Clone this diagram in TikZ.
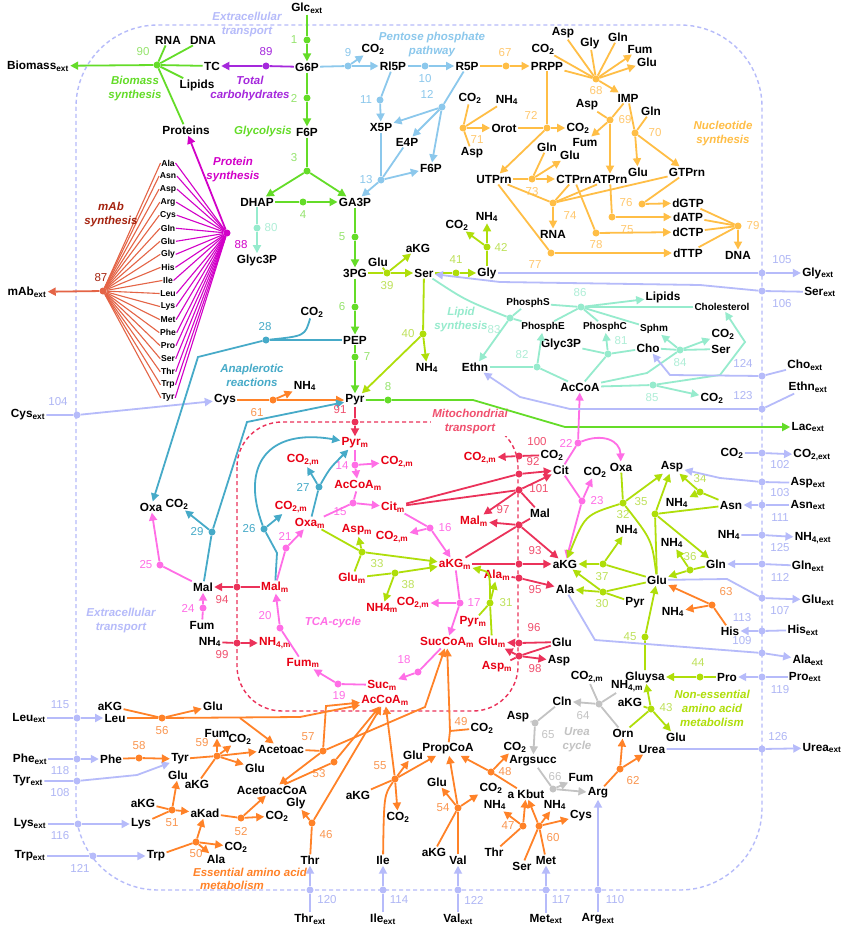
\documentclass[tikz,border=0pt]{standalone}
\usepackage{fontspec}
\setmainfont{Liberation Sans}
\usetikzlibrary{arrows.meta}
\definecolor{cgly}{RGB}{100,220,40}
\definecolor{cglyn}{RGB}{150,228,110}
\definecolor{cppp}{RGB}{140,200,236}
\definecolor{cnuc}{RGB}{255,190,70}
\definecolor{cnucn}{RGB}{255,200,110}
\definecolor{cprot}{RGB}{210,0,200}
\definecolor{ccarb}{RGB}{165,40,220}
\definecolor{cmab}{RGB}{228,100,70}
\definecolor{cmabt}{RGB}{165,35,15}
\definecolor{cana}{RGB}{70,170,200}
\definecolor{ctca}{RGB}{255,110,230}
\definecolor{cmit}{RGB}{235,50,90}
\definecolor{cmitn}{RGB}{240,80,110}
\definecolor{cmitt}{RGB}{232,0,20}
\definecolor{cnea}{RGB}{175,222,10}
\definecolor{cnean}{RGB}{190,225,90}
\definecolor{cea}{RGB}{255,130,40}
\definecolor{cean}{RGB}{250,150,80}
\definecolor{ctr}{RGB}{182,187,250}
\definecolor{ctrn}{RGB}{175,182,245}
\definecolor{cmint}{RGB}{150,235,205}
\definecolor{cmintn}{RGB}{175,238,215}
\definecolor{curea}{RGB}{195,195,195}
\newcommand{\sbext}{\textsubscript{ext}}
\newcommand{\sbm}{\textsubscript{m}}
\newcommand{\cotwo}{CO\textsubscript{2}}
\newcommand{\cotwom}{CO\textsubscript{2,m}}
\newcommand{\nhf}{NH\textsubscript{4}}
\tikzset{
  met/.style={font=\bfseries\fontsize{11.8}{13}\selectfont, inner sep=1.2pt},
  metr/.style={met, text=cmitt},
  mets/.style={font=\bfseries\fontsize{10}{11}\selectfont, inner sep=1pt},
  aal/.style={font=\bfseries\fontsize{8.6}{9}\selectfont, inner sep=0.6pt},
  num/.style={font=\fontsize{11.5}{12}\selectfont, inner sep=0pt},
  pth/.style={font=\bfseries\itshape\fontsize{11.5}{14}\selectfont, align=center, inner sep=0pt},
  rdot/.style={circle, inner sep=0pt, minimum size=7pt},
  arr/.style={line width=1.8pt, -{Triangle[length=8pt,width=8pt]}},
  lin/.style={line width=1.8pt},
}
\begin{document}
\begin{tikzpicture}[x=1pt,y=-1pt]
\useasboundingbox (0,0) rectangle (850,931);
\fill[white] (0,0) rectangle (850,931);
% compartments
\draw[ctr,line width=1.4pt,dash pattern=on 4pt off 3pt,rounded corners=82pt] (76,25) rectangle (762,890);
\draw[cmit,line width=1.4pt,dash pattern=on 4pt off 3pt,rounded corners=45pt] (237,422) rectangle (518,711);
\node[pth,text=cmitn,fill=white,inner sep=1.5pt] (lmit) at (470,422) {Mitochondrial\\transport};
\node[pth,text=ctr] (lext1) at (247,25) {Extracellular\\transport};
\node[pth,text=ctr] (lext2) at (121,621) {Extracellular\\transport};

% ================= glycolysis
\node[met] (Glcext) at (307,8) {Glc\sbext};
\node[met] (G6P) at (307,67) {G6P};
\node[met] (F6P) at (307,132) {F6P};
\node[met] (DHAP) at (257,202) {DHAP};
\node[met] (GA3P) at (355,202) {GA3P};
\node[met] (PG3) at (355,273) {3PG};
\node[met] (PEP) at (355,340) {PEP};
\node[met] (Pyr) at (355,400) {Pyr};
\node[met] (Lacext) at (808,427) {Lac\sbext};
\node[met] (Glyc3P) at (257,260) {Glyc3P};
\node[pth,text=cgly] (lglyc) at (263,132) {Glycolysis};
\foreach \nm/\x/\y in {r1/307/40, r2/307/98, r3/307/171, r4/303/202, r5/355/237, r6/355/307, r7/355/357, r8/388/400}
  \node[rdot,fill=cgly] (\nm) at (\x,\y) {};
\foreach \lab/\x/\y in {1/294/40, 2/294/98, 3/294/158, 4/303/215, 5/342/237, 6/342/307, 7/367/357, 8/388/387}
  \node[num,text=cglyn] (n\lab) at (\x,\y) {\lab};
\node[rdot,fill=cmint] (r80) at (257,228) {};
\node[num,text=cmintn] (n80) at (271,228) {80};
\coordinate (c8a) at (473,400);
\coordinate (c8b) at (565,427);
\draw[arr,cgly] (Glcext) -- (r1) -- (G6P);
\draw[arr,cgly] (G6P) -- (r2) -- (F6P);
\draw[lin,cgly] (F6P) -- (r3);
\draw[arr,cgly] (r3) -- (DHAP);
\draw[arr,cgly] (r3) -- (GA3P);
\draw[arr,cgly] (DHAP) -- (r4) -- (GA3P);
\draw[arr,cgly] (GA3P) -- (r5) -- (PG3);
\draw[arr,cgly] (PG3) -- (r6) -- (PEP);
\draw[arr,cgly] (PEP) -- (r7) -- (Pyr);
\draw[arr,cgly] (Pyr) -- (r8) -- (c8a) -- (c8b) -- (Lacext);
\draw[arr,cmint] (DHAP) -- (r80) -- (Glyc3P);

% ================= serine / glycine
\node[met] (Glu12) at (378,262) {Glu};
\node[met] (aKG8) at (418,248) {aKG};
\node[met] (Ser) at (424,273) {Ser};
\node[met] (GlyB) at (487,273) {Gly};
\node[met] (CO2s) at (457,225) {\cotwo};
\node[met] (NH4l) at (487,217) {\nhf};
\node[met] (NH4k) at (427,368) {\nhf};
\foreach \nm/\x/\y in {r39/387/273, r40/423/334, r41/456/273, r42/487/247}
  \node[rdot,fill=cnea] (\nm) at (\x,\y) {};
\foreach \lab/\x/\y in {39/387/286, 40/408/334, 41/456/260, 42/501/247}
  \node[num,text=cnean] (n\lab) at (\x,\y) {\lab};
\draw[lin,cnea] (PG3) -- (r39);
\draw[lin,cnea] (Glu12) -- (r39);
\draw[arr,cnea] (r39) -- (Ser);
\draw[arr,cnea] (r39) -- (aKG8);
\draw[arr,cnea] (Ser) -- (r41) -- (GlyB);
\draw[lin,cnea] (GlyB) -- (r42);
\draw[arr,cnea] (r42) -- (NH4l);
\draw[arr,cnea] (r42) -- (CO2s);
\draw[lin,cnea] (Ser) -- (r40);
\draw[arr,cnea] (r40) -- (NH4k);
\draw[arr,cnea] (r40) -- (Pyr);

% ================= biomass
\node[met] (Biomassext) at (38,66) {Biomass\sbext};
\node[met] (RNA) at (168,40) {RNA};
\node[met] (DNA) at (203,40) {DNA};
\node[met] (TC) at (212,66) {TC};
\node[met] (Lipids) at (197,85) {Lipids};
\node[met] (Proteins) at (186,130) {Proteins};
\node[rdot,fill=cgly] (r90) at (157,65) {};
\node[num,text=cglyn] (n90) at (143,52) {90};
\node[pth,text=cgly] (lbio) at (135,89) {Biomass\\synthesis};
\node[rdot,fill=ccarb] (r89) at (266,66) {};
\node[num,text=ccarb] (n89) at (266,52) {89};
\node[pth,text=ccarb] (lcarb) at (250,89) {Total\\carbohydrates};
\draw[arr,cgly] (r90) -- (Biomassext);
\foreach \m in {RNA,DNA,TC,Lipids,Proteins} \draw[lin,cgly] (\m) -- (r90);
\draw[arr,ccarb] (G6P) -- (r89) -- (TC);

% ================= pentose phosphate
\node[met] (RI5P) at (393,66) {Rl5P};
\node[met] (R5P) at (467,66) {R5P};
\node[met] (X5P) at (381,127) {X5P};
\node[met] (E4P) at (407,142) {E4P};
\node[met] (F6Pb) at (431,168) {F6P};
\node[met] (CO2a) at (373,49) {\cotwo};
\foreach \nm/\x/\y in {r9/348/66, r10/425/66, r11/380/100, r12/442/107, r13/381/180}
  \node[rdot,fill=cppp] (\nm) at (\x,\y) {};
\foreach \lab/\x/\y in {9/348/53, 10/425/79, 11/366/100, 12/427/94, 13/366/180}
  \node[num,text=cppp] (n\lab) at (\x,\y) {\lab};
\node[pth,text=cppp] (lppp) at (432,45) {Pentose phosphate\\pathway};
\draw[lin,cppp] (G6P) -- (r9);
\draw[arr,cppp] (r9) -- (RI5P);
\draw[arr,cppp] (r9) -- (CO2a);
\draw[arr,cppp] (RI5P) -- (r10) -- (R5P);
\draw[arr,cppp] (RI5P) -- (r11) -- (X5P);
\draw[lin,cppp] (R5P) -- (r12);
\foreach \m in {X5P,E4P,F6Pb} \draw[arr,cppp] (r12) -- (\m);
\draw[lin,cppp] (X5P) -- (r13);
\draw[lin,cppp] (E4P) -- (r13);
\draw[arr,cppp] (r13) -- (F6Pb);
\draw[arr,cppp] (r13) -- (GA3P);

% ================= nucleotides
\node[met] (PRPP) at (547,66) {PRPP};
\node[met] (Asp1) at (563,33) {Asp};
\node[met] (Gly1) at (590,43) {Gly};
\node[met] (Gln1) at (618,37) {Gln};
\node[met] (Fum1) at (640,49) {Fum};
\node[met] (Glu1) at (647,62) {Glu};
\node[met] (CO2b) at (543,49) {\cotwo};
\node[met] (IMP) at (628,98) {IMP};
\node[met] (Orot) at (504,128) {Orot};
\node[met] (CO2c) at (578,128) {\cotwo};
\node[met] (UTPrn) at (494,179) {UTPrn};
\node[met] (CO2d) at (470,98) {\cotwo};
\node[met] (NH4a) at (507,100) {\nhf};
\node[met] (Asp2) at (472,153) {Asp};
\node[met] (Asp3) at (587,105) {Asp};
\node[met] (Fum2) at (585,142) {Fum};
\node[met] (ATPrn) at (610,179) {ATPrn};
\node[met] (Gln2) at (651,111) {Gln};
\node[met] (Glu2) at (638,172) {Glu};
\node[met] (GTPrn) at (687,172) {GTPrn};
\node[met] (Gln3) at (547,147) {Gln};
\node[met] (Glu3) at (570,155) {Glu};
\node[met] (CTPrn) at (574,179) {CTPrn};
\node[met] (RNA2) at (553,234) {RNA};
\node[met] (dGTP) at (688,203) {dGTP};
\node[met] (dATP) at (688,217) {dATP};
\node[met] (dCTP) at (688,232) {dCTP};
\node[met] (dTTP) at (688,253) {dTTP};
\node[met] (DNA2) at (738,255) {DNA};
\node[pth,text=cnuc] (lnuc) at (723,134) {Nucleotide\\synthesis};
\foreach \nm/\x/\y in {r67/506/66, r68/596/79, r69/610/120, r70/635/133, r71/463/128, r72/547/128, r73/532/179, r74/553/203, r75/612/217, r76/642/204, r77/551/253, r78/596/233, r79/738/226}
  \node[rdot,fill=cnuc] (\nm) at (\x,\y) {};
\foreach \lab/\x/\y in {67/505/53, 68/596/91, 69/625/120, 70/655/133, 71/477/140, 72/531/115, 73/532/192, 74/570/216, 75/627/230, 76/626/203, 77/535/265, 78/596/245, 79/753/226}
  \node[num,text=cnucn] (n\lab) at (\x,\y) {\lab};
\draw[arr,cnuc] (R5P) -- (r67) -- (PRPP);
\foreach \m in {Asp1,Gly1,Gln1,CO2b,PRPP} \draw[lin,cnuc] (\m) -- (r68);
\foreach \m in {Fum1,Glu1,IMP} \draw[arr,cnuc] (r68) -- (\m);
\draw[lin,cnuc] (PRPP) -- (r72);
\draw[lin,cnuc] (Orot) -- (r72);
\draw[arr,cnuc] (r72) -- (CO2c);
\draw[arr,cnuc] (r72) -- (UTPrn);
\foreach \m in {CO2d,NH4a,Asp2} \draw[lin,cnuc] (\m) -- (r71);
\draw[arr,cnuc] (r71) -- (Orot);
\draw[lin,cnuc] (IMP) -- (r69);
\draw[lin,cnuc] (Asp3) -- (r69);
\draw[arr,cnuc] (r69) -- (Fum2);
\draw[arr,cnuc] (r69) -- (ATPrn);
\draw[lin,cnuc] (IMP) -- (r70);
\draw[lin,cnuc] (Gln2) -- (r70);
\draw[arr,cnuc] (r70) -- (Glu2);
\draw[arr,cnuc] (r70) -- (GTPrn);
\draw[lin,cnuc] (UTPrn) -- (r73);
\draw[lin,cnuc] (Gln3) -- (r73);
\draw[arr,cnuc] (r73) -- (Glu3);
\draw[arr,cnuc] (r73) -- (CTPrn);
\foreach \m in {UTPrn,CTPrn,ATPrn,GTPrn} \draw[lin,cnuc] (\m) -- (r74);
\draw[arr,cnuc] (r74) -- (RNA2);
\draw[lin,cnuc] (ATPrn) -- (r75);
\draw[arr,cnuc] (r75) -- (dATP);
\draw[lin,cnuc] (GTPrn) -- (r76);
\draw[arr,cnuc] (r76) -- (dGTP);
\draw[lin,cnuc] (UTPrn) -- (r77);
\draw[arr,cnuc] (r77) -- (dTTP);
\draw[lin,cnuc] (CTPrn) -- (r78);
\draw[arr,cnuc] (r78) -- (dCTP);
\foreach \m in {dGTP,dATP,dCTP,dTTP} \draw[lin,cnuc] (\m) -- (r79);
\draw[arr,cnuc] (r79) -- (DNA2);

% ================= protein / mAb synthesis
\node[rdot,fill=cmab] (r87) at (103,291) {};
\node[rdot,fill=cprot] (r88) at (227,233) {};
\foreach \a [count=\i from 0] in {Ala,Asn,Asp,Arg,Cys,Gln,Glu,Gly,His,Ile,Leu,Lys,Met,Phe,Pro,Ser,Thr,Trp,Tyr}{
  \node[aal] (aa\i) at (168,{163+13.05*\i}) {\a};
  \draw[cmab,line width=1.1pt] (aa\i.west) -- (r87);
  \draw[cprot,line width=1.1pt] (aa\i.east) -- (r88);
}
\node[num,text=cmabt] (n87) at (101,278) {87};
\node[met] (mAbext) at (27,292) {mAb\sbext};
\draw[arr,cmab] (r87) -- (mAbext);
\node[num,text=cprot] (n88) at (241,245) {88};
\draw[arr,cprot] (r88) -- (Proteins);
\node[pth,text=cmabt] (lmab) at (111,215) {mAb\\synthesis};
\node[pth,text=cprot] (lprot) at (233,170) {Protein\\synthesis};

% ================= anaplerotic / cytosolic left
\node[met] (Cysext) at (28,415) {Cys\sbext};
\node[met] (Cys) at (225,400) {Cys};
\node[met] (NH4b) at (305,386) {\nhf};
\node[met] (CO2e) at (312,312) {\cotwo};
\node[met] (Oxa1) at (151,507) {Oxa};
\node[met] (CO2f) at (177,504) {\cotwo};
\node[met] (Mal1) at (203,587) {Mal};
\node[met] (Fum3) at (202,625) {Fum};
\node[met] (NH4c) at (210,642) {\nhf};
\node[pth,text=cana] (lana) at (252,375) {Anaplerotic\\reactions};
\node[rdot,fill=ctr] (r104) at (77,415) {};
\node[num,text=ctrn] (n104) at (58,402) {104};
\node[rdot,fill=cea] (r61) at (273,400) {};
\node[num,text=cean] (n61) at (257,413) {61};
\foreach \nm/\x/\y in {r28/266/340, r29/212/532, r26/264/529, r27/319/487}
  \node[rdot,fill=cana] (\nm) at (\x,\y) {};
\foreach \lab/\x/\y in {28/265/327, 29/197/532, 26/249/529, 27/303/487}
  \node[num,text=cana] (n\lab) at (\x,\y) {\lab};
\foreach \nm/\x/\y in {r25/160/565, r24/203/608}
  \node[rdot,fill=ctca] (\nm) at (\x,\y) {};
\foreach \lab/\x/\y in {25/146/565, 24/188/608}
  \node[num,text=ctca] (n\lab) at (\x,\y) {\lab};
\coordinate (c28) at (198,357);
\coordinate (c29) at (247,422);
\draw[arr,ctr] (Cysext) -- (r104) -- (Cys);
\draw[lin,cea] (Cys) -- (r61);
\draw[arr,cea] (r61) -- (Pyr);
\draw[arr,cea] (r61) -- (NH4b);
\draw[lin,cana] (PEP) -- (r28);
\draw[lin,cana] (CO2e) .. controls (305,336) .. (r28);
\draw[arr,cana] (r28) -- (c28) -- (Oxa1);
\draw[arr,cana] (Mal1) -- (r29) -- (c29) -- (Pyr);
\draw[arr,cana] (r29) -- (CO2f);
\draw[arr,ctca] (Mal1) -- (r25) -- (Oxa1);
\draw[arr,ctca] (Fum3) -- (r24) -- (Mal1);

% ================= mitochondria
\node[metr] (Pyrm) at (355,443) {Pyr\sbm};
\node[metr] (CO2m1) at (303,460) {\cotwom};
\node[metr] (CO2m2) at (291,507) {\cotwom};
\node[metr] (CO2m3) at (397,462) {\cotwom};
\node[metr] (AcCoAm1) at (358,485) {AcCoA\sbm};
\node[metr] (Oxam) at (310,523) {Oxa\sbm};
\node[metr] (Aspm1) at (357,530) {Asp\sbm};
\node[metr] (Citm) at (393,507) {Cit\sbm};
\node[metr] (CO2m4) at (392,537) {\cotwom};
\node[metr] (aKGm) at (455,564) {aKG\sbm};
\node[metr] (Glum1) at (352,578) {Glu\sbm};
\node[metr] (NH4m) at (382,608) {NH4\sbm};
\node[metr] (CO2m5) at (413,603) {\cotwom};
\node[metr] (SucCoAm) at (447,642) {SucCoA\sbm};
\node[metr] (Sucm) at (382,685) {Suc\sbm};
\node[metr] (AcCoAm2) at (385,700) {AcCoA\sbm};
\node[metr] (Fumm) at (303,663) {Fum\sbm};
\node[metr] (Malm1) at (275,587) {Mal\sbm};
\node[metr] (NH4m2) at (275,643) {NH\textsubscript{4,m}};
\node[metr] (CO2m6) at (480,458) {\cotwom};
\node[metr] (Malm2) at (474,521) {Mal\sbm};
\node[metr] (Alam) at (497,575) {Ala\sbm};
\node[metr] (Pyrm2) at (473,622) {Pyr\sbm};
\node[metr] (Glum2) at (492,642) {Glu\sbm};
\node[metr] (Aspm2) at (497,667) {Asp\sbm};
\node[pth,text=ctca] (ltca) at (333,623) {TCA-cycle};
\node[met] (CO2g) at (552,455) {\cotwo};
\node[met] (Cit) at (561,470) {Cit};
\node[met] (Mal2) at (540,513) {Mal};
\node[met] (aKG1) at (565,564) {aKG};
\node[met] (Ala1) at (565,589) {Ala};
\node[met] (Glu4) at (562,642) {Glu};
\node[met] (Asp4) at (559,661) {Asp};
\foreach \nm/\x/\y in {r91/355/422, r92/519/474, r93/519/564, r94/237/587, r95/519/578, r96/519/643, r97/519/525, r98/519/656, r99/237/643, r100/519/456, r101/519/490}
  \node[rdot,fill=cmit] (\nm) at (\x,\y) {};
\foreach \lab/\x/\y in {91/340/410, 92/533/462, 93/535/551, 94/222/600, 95/535/590, 96/534/628, 97/503/510, 98/535/669, 99/222/655, 100/537/442, 101/539/489}
  \node[num,text=cmitn] (n\lab) at (\x,\y) {\lab};
\foreach \nm/\x/\y in {r14/355/465, r15/353/503, r16/430/528, r17/460/603, r18/418/672, r19/338/684, r20/280/628, r21/286/548}
  \node[rdot,fill=ctca] (\nm) at (\x,\y) {};
\foreach \lab/\x/\y in {14/342/466, 15/340/512, 16/445/528, 17/474/603, 18/404/660, 19/339/696, 20/265/616, 21/285/536}
  \node[num,text=ctca] (n\lab) at (\x,\y) {\lab};
\foreach \nm/\x/\y in {r31/490/603, r33/362/552, r38/395/573}
  \node[rdot,fill=cnea] (\nm) at (\x,\y) {};
\foreach \lab/\x/\y in {31/506/603, 33/377/564, 38/408/585}
  \node[num,text=cnean] (n\lab) at (\x,\y) {\lab};
\coordinate (c26) at (277,553);
\draw[arr,cmit] (Pyr) -- (r91) -- (Pyrm);
\draw[lin,ctca] (Pyrm) -- (r14);
\draw[arr,ctca] (r14) -- (CO2m3);
\draw[arr,ctca] (r14) -- (AcCoAm1);
\draw[lin,ctca] (AcCoAm1) -- (r15);
\draw[lin,ctca] (Oxam) -- (r15);
\draw[arr,ctca] (r15) -- (Citm);
\draw[lin,ctca] (Citm) -- (r16);
\draw[arr,ctca] (r16) -- (CO2m4);
\draw[arr,ctca] (r16) -- (aKGm);
\draw[lin,ctca] (aKGm) -- (r17);
\draw[arr,ctca] (r17) -- (CO2m5);
\draw[arr,ctca] (r17) -- (SucCoAm);
\draw[arr,ctca] (SucCoAm) -- (r18) -- (Sucm);
\draw[arr,ctca] (Sucm) -- (r19) -- (Fumm);
\draw[arr,ctca] (Fumm) -- (r20) -- (Malm1);
\draw[arr,ctca] (Malm1) -- (r21) -- (Oxam);
\draw[lin,cnea] (Oxam) -- (r33);
\draw[lin,cnea] (Glum1) -- (r33);
\draw[arr,cnea] (r33) -- (Aspm1);
\draw[arr,cnea] (r33) -- (aKGm);
\draw[lin,cnea] (Glum1) -- (r38);
\draw[arr,cnea] (r38) -- (aKGm);
\draw[arr,cnea] (r38) -- (NH4m);
\draw[lin,cana] (Malm1) -- (c26) -- (r26);
\draw[arr,cana] (r26) -- (CO2m2);
\draw[arr,cana] (r26) .. controls (240,465) and (268,428) .. (Pyrm);
\draw[lin,cana] (Oxam) -- (r27);
\draw[arr,cana] (r27) -- (CO2m1);
\draw[arr,cana] (r27) .. controls (330,468) .. (Pyrm);
\draw[arr,cmit] (Malm1) -- (r94) -- (Mal1);
\draw[arr,cmit] (NH4c) -- (r99) -- (NH4m2);
\draw[arr,cmit] (CO2g) -- (r100) -- (CO2m6);
\draw[arr,cmit] (Citm) -- (r92) -- (Cit);
\draw[lin,cmit] (Citm) -- (r101);
\draw[arr,cmit] (r101) -- (Cit);
\draw[lin,cmit] (Mal2) -- (r101);
\draw[arr,cmit] (r101) -- (Malm2);
\draw[lin,cmit] (aKGm) -- (r97);
\draw[lin,cmit] (Mal2) -- (r97);
\draw[arr,cmit] (r97) -- (Malm2);
\draw[arr,cmit] (r97) -- (aKG1);
\draw[arr,cmit] (aKGm) -- (r93) -- (aKG1);
\draw[arr,cmit] (Alam) -- (r95) -- (Ala1);
\draw[lin,cnea] (Pyrm2) -- (r31);
\draw[lin,cnea] (Glum2) -- (r31);
\draw[arr,cnea] (r31) -- (Alam);
\draw[arr,cnea] (r31) .. controls (490,572) .. (aKGm);
\draw[arr,cmit] (Glu4) -- (r96) -- (Glum2);
\draw[lin,cmit] (Aspm2) -- (r98);
\draw[lin,cmit] (Glu4) -- (r98);
\draw[arr,cmit] (r98) -- (Asp4);
\draw[arr,cmit] (r98) -- (Glum2);

% ================= non-essential amino acids (cytosol right)
\node[met] (Oxa2) at (621,467) {Oxa};
\node[met] (CO2h) at (595,472) {\cotwo};
\node[met] (AcCoA) at (580,387) {AcCoA};
\node[met] (Asp5) at (672,467) {Asp};
\node[met] (Asn) at (731,505) {Asn};
\node[met] (NH4d) at (677,503) {\nhf};
\node[met] (NH4e) at (672,543) {\nhf};
\node[met] (NH4f) at (627,530) {\nhf};
\node[met] (GlnB) at (716,564) {Gln};
\node[met] (Glu5) at (657,580) {Glu};
\node[met] (Pyr2) at (635,603) {Pyr};
\node[met] (NH4g) at (673,612) {\nhf};
\node[met] (His) at (730,631) {His};
\node[met] (Gluysa) at (645,677) {Gluysa};
\node[met] (Pro) at (727,677) {Pro};
\node[met] (aKG2) at (630,702) {aKG};
\node[met] (Glu6) at (676,737) {Glu};
\node[met] (Orn) at (623,733) {Orn};
\node[met] (Arg) at (598,793) {Arg};
\node[met] (Urea) at (652,749) {Urea};
\node[pth,text=cnea] (lnea) at (712,708) {Non-essential\\amino acid\\metabolism};
\foreach \nm/\x/\y in {r22/578/443, r23/582/501}
  \node[rdot,fill=ctca] (\nm) at (\x,\y) {};
\foreach \lab/\x/\y in {22/566/443, 23/597/501}
  \node[num,text=ctca] (n\lab) at (\x,\y) {\lab};
\foreach \nm/\x/\y in {r32/623/503, r34/700/492, r35/655/514, r36/690/570, r37/603/564, r30/603/592, r45/645/637, r44/700/677, r43/651/709}
  \node[rdot,fill=cnea] (\nm) at (\x,\y) {};
\foreach \lab/\x/\y in {32/623/515, 35/641/502, 34/700/479, 36/690/557, 37/602/577, 30/602/604, 45/630/637, 44/698/663, 43/666/708}
  \node[num,text=cnean] (n\lab) at (\x,\y) {\lab};
\node[rdot,fill=cea] (r63) at (712,605) {};
\node[num,text=cean] (n63) at (726,592) {63};
\node[rdot,fill=cea] (r62) at (620,769) {};
\node[num,text=cean] (n62) at (633,781) {62};
\draw[lin,ctca] (Cit) -- (r22);
\draw[arr,ctca] (r22) -- (AcCoA);
\draw[arr,ctca] (r22) .. controls (602,433) and (620,440) .. (Oxa2);
\draw[lin,ctca] (Cit) -- (r23);
\draw[arr,ctca] (r23) -- (CO2h);
\draw[arr,ctca] (r23) -- (aKG1);
\draw[lin,cnea] (Oxa2) -- (r32);
\draw[arr,cnea] (r32) -- (Asp5);
\draw[lin,cnea] (Glu5) .. controls (652,540) .. (r32);
\draw[arr,cnea] (r32) .. controls (585,515) .. (aKG1);
\draw[lin,cnea] (Asn) -- (r34);
\draw[arr,cnea] (r34) -- (Asp5);
\draw[arr,cnea] (r34) -- (NH4d);
\draw[lin,cnea] (Glu5) -- (r35);
\draw[lin,cnea] (Asn) -- (r35);
\draw[arr,cnea] (r35) -- (Asp5);
\draw[arr,cnea] (r35) -- (GlnB);
\draw[lin,cnea] (GlnB) -- (r36);
\draw[arr,cnea] (r36) -- (NH4e);
\draw[arr,cnea] (r36) -- (Glu5);
\draw[lin,cnea] (Glu5) -- (r37);
\draw[arr,cnea] (r37) -- (aKG1);
\draw[arr,cnea] (r37) -- (NH4f);
\draw[lin,cnea] (Glu5) -- (r30);
\draw[lin,cnea] (Pyr2) -- (r30);
\draw[arr,cnea] (r30) -- (Ala1);
\draw[arr,cnea] (r30) -- (aKG1);
\draw[lin,cea] (His) -- (r63);
\draw[arr,cea] (r63) -- (Glu5);
\draw[arr,cea] (r63) -- (NH4g);
\draw[arr,cnea] (Gluysa) -- (r45) -- (Glu5);
\draw[arr,cnea] (Pro) -- (r44) -- (Gluysa);
\draw[lin,cnea] (Orn) -- (r43);
\draw[lin,cnea] (aKG2) -- (r43);
\draw[arr,cnea] (r43) -- (Glu6);
\draw[arr,cnea] (r43) -- (Gluysa);
\draw[lin,cea] (Arg) -- (r62);
\draw[arr,cea] (r62) -- (Orn);
\draw[arr,cea] (r62) -- (Urea);

% ================= urea cycle
\node[met] (Cln) at (562,701) {Cln};
\node[met] (CO2m7) at (587,677) {\cotwom};
\node[met] (NH4m3) at (627,686) {NH\textsubscript{4,m}};
\node[met] (Asp6) at (518,717) {Asp};
\node[met] (Argsucc) at (533,761) {Argsucc};
\node[met] (Fum4) at (581,777) {Fum};
\node[pth,text=curea] (lurea) at (577,740) {Urea\\cycle};
\foreach \nm/\x/\y in {r64/599/704, r65/535/723, r66/553/789}
  \node[rdot,fill=curea] (\nm) at (\x,\y) {};
\foreach \lab/\x/\y in {64/583/716, 65/548/735, 66/555/777}
  \node[num,text=curea] (n\lab) at (\x,\y) {\lab};
\draw[lin,curea] (CO2m7) -- (r64);
\draw[lin,curea] (NH4m3) -- (r64);
\draw[lin,curea] (Orn) -- (r64);
\draw[arr,curea] (r64) -- (Cln);
\draw[lin,curea] (Asp6) -- (r65);
\draw[lin,curea] (Cln) -- (r65);
\draw[arr,curea] (r65) -- (Argsucc);
\draw[lin,curea] (Argsucc) -- (r66);
\draw[arr,curea] (r66) -- (Fum4);
\draw[arr,curea] (r66) -- (Arg);

% ================= essential amino acids
\node[met] (Leuext) at (29,718) {Leu\sbext};
\node[met] (Leu) at (115,718) {Leu};
\node[met] (aKG3) at (110,706) {aKG};
\node[met] (Glu7) at (213,706) {Glu};
\node[met] (Acetoac) at (281,749) {Acetoac};
\node[met] (Pheext) at (30,759) {Phe\sbext};
\node[met] (Phe) at (111,759) {Phe};
\node[met] (Tyrext) at (28,781) {Tyr\sbext};
\node[met] (Tyr) at (180,759) {Tyr};
\node[met] (Fum5) at (217,733) {Fum};
\node[met] (CO2i) at (240,739) {\cotwo};
\node[met] (Glu8) at (255,768) {Glu};
\node[met] (aKG4) at (197,784) {aKG};
\node[met] (Glu9) at (178,775) {Glu};
\node[met] (aKG5) at (143,803) {aKG};
\node[met] (Lys) at (141,824) {Lys};
\node[met] (Lysext) at (30,824) {Lys\sbext};
\node[met] (aKad) at (205,813) {aKad};
\node[met] (AcetoacCoA) at (272,790) {AcetoacCoA};
\node[met] (Gly2) at (296,803) {Gly};
\node[met] (CO2j) at (277,816) {\cotwo};
\node[met] (Trp) at (156,856) {Trp};
\node[met] (Trpext) at (30,856) {Trp\sbext};
\node[met] (CO2k) at (236,847) {\cotwo};
\node[met] (Ala2) at (216,859) {Ala};
\node[pth,text=cea] (lea1) at (250,872) {Essential amino acid};
\node[pth,text=cea] (lea2) at (232,885) {metabolism};
\node[met] (Thr1) at (310,860) {Thr};
\node[met] (Ile) at (383,860) {Ile};
\node[met] (aKG6) at (358,795) {aKG};
\node[met] (Glu10) at (413,755) {Glu};
\node[met] (PropCoA) at (448,749) {PropCoA};
\node[met] (CO2l) at (398,817) {\cotwo};
\node[met] (CO2t) at (482,728) {\cotwo};
\node[met] (Val) at (458,860) {Val};
\node[met] (aKG7) at (434,852) {aKG};
\node[met] (Glu11) at (437,782) {Glu};
\node[met] (CO2n) at (491,788) {\cotwo};
\node[met] (NH4h) at (495,805) {\nhf};
\node[met] (Kbut) at (526,794) {a Kbut};
\node[met] (CO2o) at (515,747) {\cotwo};
\node[met] (Thr2) at (494,852) {Thr};
\node[met] (Ser2) at (522,866) {Ser};
\node[met] (Met) at (546,860) {Met};
\node[met] (NH4i) at (555,805) {\nhf};
\node[met] (Cys2) at (581,816) {Cys};
\node[met] (Thrext) at (310,919) {Thr\sbext};
\node[met] (Ileext) at (383,919) {Ile\sbext};
\node[met] (Valext) at (458,919) {Val\sbext};
\node[met] (Metext) at (546,919) {Met\sbext};
\node[met] (Argext) at (598,919) {Arg\sbext};
\foreach \nm/\x/\y in {r56/162/718, r58/139/758, r59/217/756, r51/172/810, r52/241/818, r50/196/842, r57/323/751, r53/334/762, r46/312/823, r55/395/779, r54/458/808, r48/491/772, r47/523/826, r60/539/826}
  \node[rdot,fill=cea] (\nm) at (\x,\y) {};
\foreach \lab/\x/\y in {56/162/731, 58/139/746, 59/202/743, 51/172/823, 52/241/832, 50/196/854, 57/308/737, 53/319/774, 46/326/835, 55/380/766, 54/443/808, 48/505/772, 47/508/826, 60/553/838, 49/461/722}
  \node[num,text=cean] (n\lab) at (\x,\y) {\lab};
\foreach \nm/\x/\y in {r115/77/718, r118/77/759, r108/77/781, r116/78/824, r121/93/856, r120/310/890, r114/383/890, r122/458/890, r117/546/890, r110/598/890}
  \node[rdot,fill=ctr] (\nm) at (\x,\y) {};
\foreach \lab/\x/\y in {115/60/705, 118/60/771, 108/60/793, 116/60/836, 121/80/868, 120/327/900, 114/399/900, 122/474/900, 117/561/900, 110/615/900}
  \node[num,text=ctrn] (n\lab) at (\x,\y) {\lab};
\coordinate (c56a) at (240,718);
\coordinate (c56b) at (300,717);
\coordinate (c108) at (137,775);
\coordinate (c57) at (326,706);
\coordinate (c57b) at (425,707);
\coordinate (j49) at (450,731);
\draw[arr,ctr] (Leuext) -- (r115) -- (Leu);
\draw[lin,cea] (Leu) -- (r56);
\draw[lin,cea] (aKG3) -- (r56);
\draw[arr,cea] (r56) -- (Glu7);
\draw[arr,cea] (r56) -- (c56b) -- (AcCoAm2);
\draw[arr,cea] (c56a) -- (Acetoac);
\draw[arr,ctr] (Pheext) -- (r118) -- (Phe);
\draw[arr,ctr] (Tyrext) -- (r108) -- (c108) -- (Tyr);
\draw[arr,cea] (Phe) -- (r58) -- (Tyr);
\draw[lin,cea] (Tyr) -- (r59);
\draw[lin,cea] (aKG4) -- (r59);
\foreach \m in {Fum5,CO2i,Acetoac,Glu8} \draw[arr,cea] (r59) -- (\m);
\draw[arr,ctr] (Lysext) -- (r116) -- (Lys);
\draw[lin,cea] (Lys) -- (r51);
\draw[lin,cea] (aKG5) -- (r51);
\draw[arr,cea] (r51) -- (Glu9);
\draw[arr,cea] (r51) -- (aKad);
\draw[lin,cea] (aKad) -- (r52);
\draw[arr,cea] (r52) -- (AcetoacCoA);
\draw[arr,cea] (r52) -- (CO2j);
\draw[arr,ctr] (Trpext) -- (r121) -- (Trp);
\draw[lin,cea] (Trp) -- (r50);
\foreach \m in {aKad,CO2k,Ala2} \draw[arr,cea] (r50) -- (\m);
\draw[lin,cea] (Acetoac) -- (r57);
\draw[arr,cea] (r57) -- (AcetoacCoA);
\draw[arr,cea] (r57) -- (c57) -- (AcCoAm2);
\draw[arr,cea] (r57) -- (c57b) -- (SucCoAm);
\draw[lin,cea] (AcetoacCoA) -- (r53);
\draw[arr,cea] (r53) -- (AcCoAm2);
\draw[arr,ctr] (Thrext) -- (r120) -- (Thr1);
\draw[lin,cea] (Thr1) -- (r46);
\draw[arr,cea] (r46) -- (Gly2);
\draw[arr,cea] (r46) -- (AcCoAm2);
\draw[arr,ctr] (Ileext) -- (r114) -- (Ile);
\draw[lin,cea] (Ile) .. controls (384,795) .. (r55);
\draw[lin,cea] (aKG6) -- (r55);
\foreach \m in {Glu10,PropCoA,CO2l,AcCoAm2} \draw[arr,cea] (r55) -- (\m);
\draw[lin,cea] (PropCoA) -- (j49) -- (CO2t);
\draw[arr,cea] (j49) -- (SucCoAm);
\draw[arr,ctr] (Valext) -- (r122) -- (Val);
\draw[lin,cea] (Val) -- (r54);
\draw[lin,cea] (aKG7) -- (r54);
\draw[arr,cea] (r54) -- (Glu11);
\draw[arr,cea] (r54) -- (PropCoA);
\draw[arr,cea] (r54) -- (CO2n.south west);
\draw[lin,cea] (Kbut) -- (r48);
\draw[arr,cea] (r48) -- (PropCoA);
\draw[arr,cea] (r48) -- (CO2o);
\draw[lin,cea] (Thr2) -- (r47);
\draw[arr,cea] (r47) -- (Kbut);
\draw[arr,cea] (r47) -- (NH4h);
\draw[lin,cea] (Ser2) -- (r60);
\draw[lin,cea] (Met) -- (r60);
\foreach \m in {Kbut,NH4i,Cys2} \draw[arr,cea] (r60) -- (\m);
\draw[arr,ctr] (Metext) -- (r117) -- (Met);
\draw[arr,ctr] (Argext) -- (r110) -- (Arg);

% ================= lipid synthesis
\node[mets] (PhosphS) at (528,303) {PhosphS};
\node[mets] (PhosphE) at (543,327) {PhosphE};
\node[mets] (PhosphC) at (605,327) {PhosphC};
\node[met] (Glyc3P2) at (561,344) {Glyc3P};
\node[met] (Lipids2) at (663,297) {Lipids};
\node[mets] (Cholesterol) at (722,307) {Cholesterol};
\node[mets] (Sphm) at (654,329) {Sphm};
\node[met] (CO2q) at (723,334) {\cotwo};
\node[met] (Ser3) at (721,349) {Ser};
\node[met] (Cho) at (648,348) {Cho};
\node[met] (CO2r) at (712,398) {\cotwo};
\node[met] (Ethn) at (475,367) {Ethn};
\node[pth,text=cmint] (llip) at (461,320) {Lipid\\synthesis};
\foreach \nm/\x/\y in {r83/510/318, r86/581/307, r81/608/354, r82/537/367, r84/680/350, r85/653/385}
  \node[rdot,fill=cmint] (\nm) at (\x,\y) {};
\foreach \lab/\x/\y in {83/494/330, 86/580/293, 81/621/341, 82/522/355, 84/680/363, 85/652/398}
  \node[num,text=cmintn] (n\lab) at (\x,\y) {\lab};
\coordinate (c84) at (647,373);
\coordinate (c85a) at (720,375);
\coordinate (c85b) at (745,342);
\draw[lin,cmint] (Ser) .. controls (465,300) .. (r83);
\draw[lin,cmint] (PhosphS) -- (r83);
\draw[lin,cmint] (PhosphE) -- (r83);
\draw[arr,cmint] (r83) -- (Ethn);
\foreach \m in {PhosphS,PhosphE,PhosphC,Sphm,Cholesterol} \draw[lin,cmint] (\m) -- (r86);
\draw[arr,cmint] (r86) -- (Lipids2);
\draw[lin,cmint] (Glyc3P2) -- (r81);
\draw[lin,cmint] (Cho) -- (r81);
\draw[lin,cmint] (AcCoA) -- (r81);
\draw[arr,cmint] (r81) -- (PhosphC);
\draw[lin,cmint] (Ethn) -- (r82);
\draw[lin,cmint] (AcCoA) -- (r82);
\draw[arr,cmint] (r82) -- (PhosphE);
\draw[lin,cmint] (Cho) -- (r84);
\draw[lin,cmint] (Ser3) -- (r84);
\draw[lin,cmint] (AcCoA) -- (c84) -- (r84);
\draw[arr,cmint] (r84) -- (Sphm);
\draw[arr,cmint] (r84) -- (CO2q);
\draw[lin,cmint] (AcCoA) -- (r85);
\draw[arr,cmint] (r85) -- (CO2r);
\draw[arr,cmint] (r85) -- (c85a) -- (c85b) -- (Cholesterol);

% ================= right-hand transports
\node[met] (Glyext) at (818,273) {Gly\sbext};
\node[met] (Serext) at (820,292) {Ser\sbext};
\node[met] (Choext) at (805,365) {Cho\sbext};
\node[met] (Ethnext) at (808,387) {Ethn\sbext};
\node[met] (CO2p) at (732,453) {\cotwo};
\node[met] (CO2ext) at (812,455) {CO\textsubscript{2,ext}};
\node[met] (Aspext) at (808,483) {Asp\sbext};
\node[met] (Asnext) at (808,505) {Asn\sbext};
\node[met] (NH4j) at (729,535) {\nhf};
\node[met] (NH4ext) at (813,538) {NH\textsubscript{4,ext}};
\node[met] (Glnext) at (808,566) {Gln\sbext};
\node[met] (Gluext) at (818,600) {Glu\sbext};
\node[met] (Hisext) at (803,630) {His\sbext};
\node[met] (Alaext) at (808,660) {Ala\sbext};
\node[met] (Proext) at (805,677) {Pro\sbext};
\node[met] (Ureaext) at (822,748) {Urea\sbext};
\foreach \nm/\x/\y in {r105/762/273, r106/762/291, r124/762/376, r123/762/409, r102/762/453, r103/762/482, r111/762/505, r125/762/535, r112/762/564, r107/762/598, r113/762/631, r109/762/653, r119/762/677, r126/762/749}
  \node[rdot,fill=ctr] (\nm) at (\x,\y) {};
\foreach \lab/\x/\y in {105/782/260, 106/782/304, 124/743/363, 123/743/396, 102/780/465, 103/780/493, 111/780/518, 125/780/548, 112/780/577, 107/780/611, 113/742/618, 109/742/641, 119/780/690, 126/778/737}
  \node[num,text=ctrn] (n\lab) at (\x,\y) {\lab};
\coordinate (c106a) at (700,285);
\coordinate (c106b) at (500,282);
\coordinate (c124) at (670,375);
\coordinate (c123a) at (570,409);
\coordinate (c123b) at (520,397);
\coordinate (c103) at (720,478);
\coordinate (c107) at (727,579);
\coordinate (c109) at (595,640);
\draw[arr,ctr] (GlyB) -- (r105) -- (Glyext);
\draw[arr,ctr] (Serext) -- (r106) -- (c106a) -- (c106b) -- (Ser);
\draw[arr,ctr] (Choext) -- (r124) -- (c124) -- (Cho);
\draw[arr,ctr] (Ethnext) -- (r123) -- (c123a) -- (c123b) -- (Ethn);
\draw[arr,ctr] (CO2p) -- (r102) -- (CO2ext);
\draw[arr,ctr] (Aspext) -- (r103) -- (c103) -- (Asp5);
\draw[arr,ctr] (Asnext) -- (r111) -- (Asn);
\draw[arr,ctr] (NH4j) -- (r125) -- (NH4ext);
\draw[arr,ctr] (Glnext) -- (r112) -- (GlnB);
\draw[arr,ctr] (Glu5) -- (c107) -- (r107) -- (Gluext);
\draw[arr,ctr] (Hisext) -- (r113) -- (His);
\draw[arr,ctr] (Ala1) -- (c109) -- (r109) -- (Alaext);
\draw[arr,ctr] (Proext) -- (r119) -- (Pro);
\draw[arr,ctr] (Urea) -- (r126) -- (Ureaext);
\end{tikzpicture}
\end{document}
